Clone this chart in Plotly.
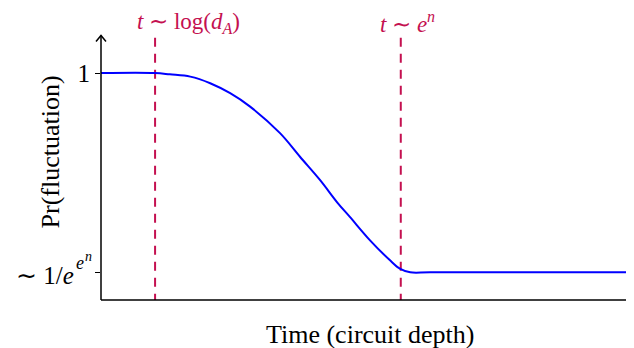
import plotly.graph_objects as go

# curve (time in axis units, probability scale)
time = [0.0, 1.03, 1.31, 1.70, 2.08, 2.46, 2.84, 3.41, 3.79, 4.17, 4.51, 4.74, 5.12,
        5.50, 5.70, 5.89, 6.27, 10.0]
prob = [1.0, 1.0, 0.994, 0.984, 0.955, 0.911, 0.852, 0.735, 0.631, 0.529, 0.427, 0.366, 0.264,
        0.176, 0.137, 0.122, 0.122, 0.122]

# characteristic times (dashed markers) and their labels
t_marks = [1.03, 5.71]
t_labels = ["<i>t</i> ∼ log(<i>d</i><sub><i>A</i></sub>)", "<i>t</i> ∼ <i>e</i><sup><i>n</i></sup>"]
label_shift = [33, 7]

# y ticks
y_ticks = [0.122, 1.0]
y_ticktext = ["", "1"]

X_MAX, Y_TOP = 10.13, 1.165
PX_X, PX_Y = 52.5, 227.0   # pixels per data unit
X_RANGE, Y_RANGE = 533 / PX_X, 292 / PX_Y
MARK = "#C41050"
FONT = "Liberation Serif"

fig = go.Figure()

for t in t_marks:
    fig.add_trace(go.Scatter(
        x=[t, t], y=[Y_TOP - 0.01, 0], mode="lines",
        line={"color": MARK, "width": 2, "dash": "9px,7px"},
        hoverinfo="skip", showlegend=False,
    ))

fig.add_trace(go.Scatter(
    x=time, y=prob, mode="lines",
    line={"color": "#0000FF", "width": 2, "shape": "spline", "smoothing": 1.0},
    showlegend=False,
))

annotations = []
for t, lab, dx in zip(t_marks, t_labels, label_shift):
    annotations.append(dict(
        x=t, y=Y_TOP, yshift=-3, xshift=dx, text=lab, showarrow=False,
        xanchor="center", yanchor="bottom",
        font={"family": FONT, "size": 23, "color": MARK},
    ))
annotations.append(dict(
    x=X_MAX / 2 + 0.05, y=0, yshift=-18, text="Time (circuit depth)", showarrow=False,
    xanchor="center", yanchor="top", font={"family": FONT, "size": 26, "color": "black"},
))
annotations.append(dict(
    x=0, xshift=-51, y=0.65, text="Pr(fluctuation)", showarrow=False, textangle=-90,
    xanchor="center", yanchor="middle", font={"family": FONT, "size": 26, "color": "black"},
))
# lower tick label  ~ 1/e^{e^n}, built from pieces
low = y_ticks[0]
annotations += [
    dict(x=0, y=low, xshift=-25, yshift=-3, text="∼ 1/<i>e</i>", showarrow=False,
         xanchor="right", yanchor="middle", font={"family": FONT, "size": 25, "color": "black"}),
    dict(x=0, y=low, xshift=-27, yshift=9, text="<i>e</i>", showarrow=False,
         xanchor="left", yanchor="middle", font={"family": FONT, "size": 18, "color": "black"}),
    dict(x=0, y=low, xshift=-18, yshift=16, text="<i>n</i>", showarrow=False,
         xanchor="left", yanchor="middle", font={"family": FONT, "size": 14, "color": "black"}),
]


def paper(x, y):
    """data -> paper fraction (paper shapes are not clipped to the plot area)"""
    return x / X_RANGE, y / Y_RANGE


# axes drawn as arrows
arrow = {"color": "black", "width": 1.5}
ax, ay = 6 / PX_X, 5 / PX_Y
bx, by = 5 / PX_X, 6 / PX_Y
o = paper(0, 0)
xe = paper(X_MAX, 0)
ye = paper(0, Y_TOP)
xa1, xa2 = paper(X_MAX - ax, ay), paper(X_MAX - ax, -ay)
ya1, ya2 = paper(-bx, Y_TOP - by), paper(bx, Y_TOP - by)
shapes = [
    dict(type="line", xref="paper", yref="paper", x0=o[0], y0=o[1], x1=xe[0], y1=xe[1], line=arrow),
    dict(type="line", xref="paper", yref="paper", x0=o[0], y0=o[1], x1=ye[0], y1=ye[1], line=arrow),
    dict(type="path", xref="paper", yref="paper",
         path=f"M {xa1[0]},{xa1[1]} L {xe[0]},{xe[1]} L {xa2[0]},{xa2[1]}", line=arrow),
    dict(type="path", xref="paper", yref="paper",
         path=f"M {ya1[0]},{ya1[1]} L {ye[0]},{ye[1]} L {ya2[0]},{ya2[1]}", line=arrow),
]

# the page adds an 8px margin left and top, so the figure is 8px smaller each way
fig.update_layout(
    width=626, height=340,
    margin={"l": 93, "r": 0, "t": 0, "b": 48},
    template="none",
    plot_bgcolor="white", paper_bgcolor="white",
    annotations=annotations, shapes=shapes,
    xaxis={"range": [0, X_RANGE], "showgrid": False, "zeroline": False,
           "showticklabels": False, "ticks": "", "showline": False, "automargin": False},
    yaxis={"range": [0, Y_RANGE], "showgrid": False, "zeroline": False, "showline": False,
           "tickvals": y_ticks, "ticktext": y_ticktext, "ticks": "outside", "ticklen": 5,
           "tickwidth": 1, "tickcolor": "black", "automargin": False,
           "tickfont": {"family": FONT, "size": 25, "color": "black"}},
)

fig.write_html("out.html")
